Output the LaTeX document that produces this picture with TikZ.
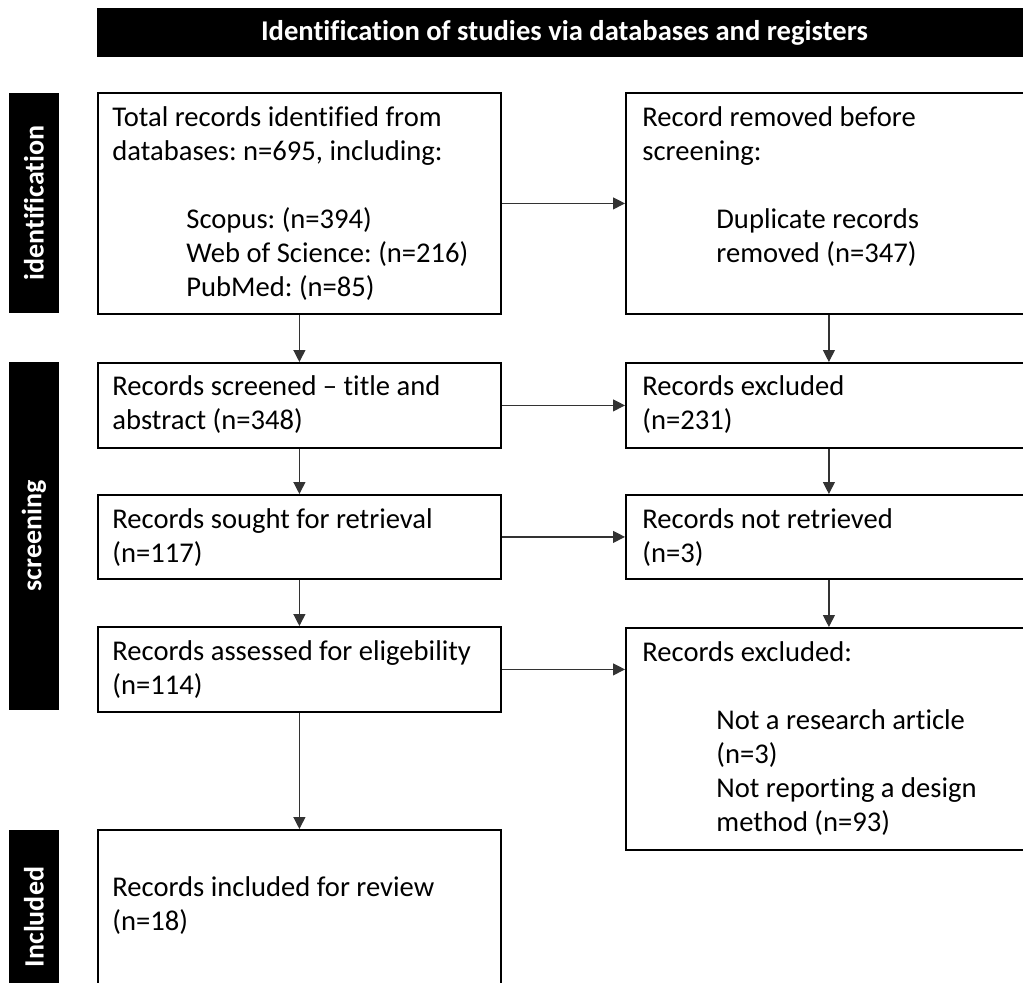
\documentclass[tikz,border=0pt]{standalone}
\usepackage{fontspec}
\setmainfont{Carlito}[Ligatures=NoCommon]
\usetikzlibrary{arrows.meta}
\newcommand{\subind}{\hspace*{37pt}}
\frenchspacing

\begin{document}
\begin{tikzpicture}[x=0.5pt,y=-0.5pt,>={Triangle[length=6pt,width=6pt]},
        rec/.style={draw,line width=0.9pt,anchor=north west,inner sep=0pt},
        txt/.style={anchor=base west,inner sep=0pt,align=flush left,text width=200pt,font=\fontsize{14.3}{17}\selectfont},
        side/.style={fill=black,text=white,inner sep=0pt,rotate=90,minimum height=25pt,font=\fontsize{14}{17}\selectfont\bfseries},
        flow/.style={->,draw=black!80,line width=0.6pt}]
            \useasboundingbox (0,0) rectangle (1023,982);
            \clip (0,0) rectangle (1023,982);

            % header bar
            \node[fill=black,text=white,anchor=north west,inner sep=0pt,minimum width=467pt,minimum height=24.5pt,
                font=\fontsize{14.3}{17}\selectfont\bfseries] (head) at (97,8) {Identification of studies via databases and registers};

            % side bars
            \node[side,minimum width=110pt] (identside) at (34,203) {identification};
            \node[side,minimum width=174pt] (screenside) at (34,536) {screening};
            \node[side,minimum width=87pt] (inclside) at (34,917) {Included};

            % left column
            \node[rec,minimum width=201.5pt,minimum height=110.5pt] (total) at (97,92) {};
            \node[rec,minimum width=201.5pt,minimum height=42.5pt] (screened) at (97,362) {};
            \node[rec,minimum width=201.5pt,minimum height=42pt] (sought) at (97,494) {};
            \node[rec,minimum width=201.5pt,minimum height=42.5pt] (assessed) at (97,626) {};
            \node[rec,minimum width=201.5pt,minimum height=87.5pt] (incl) at (97,829) {};

            % right column
            \node[rec,minimum width=203pt,minimum height=110.5pt] (removed) at (625,92) {};
            \node[rec,minimum width=203pt,minimum height=42.5pt] (excl) at (625,362) {};
            \node[rec,minimum width=203pt,minimum height=42pt] (notret) at (625,494) {};
            \node[rec,minimum width=203pt,minimum height=111pt] (exclfull) at (625,627) {};

            % texts in the boxes
            \node[txt] (totaltxt) at ([shift={(15,34)}]total.north west)
                {Total records identified from\\ databases: n=695, including:\\[17pt]
                 \subind Scopus: (n=394)\\ \subind Web of Science: (n=216)\\ \subind PubMed: (n=85)};
            \node[txt] (screenedtxt) at ([shift={(15,33)}]screened.north west) {Records screened – title and\\ abstract (n=348)};
            \node[txt] (soughttxt) at ([shift={(15,34)}]sought.north west) {Records sought for retrieval\\ (n=117)};
            \node[txt] (assessedtxt) at ([shift={(15,34)}]assessed.north west) {Records assessed for eligebility\\ (n=114)};
            \node[txt] (incltxt) at ([shift={(15,67)}]incl.north west) {Records included for review\\ (n=18)};

            \node[txt] (removedtxt) at ([shift={(17,34)}]removed.north west)
                {Record removed before\\ screening:\\[17pt] \subind Duplicate records\\ \subind removed (n=347)};
            \node[txt] (excltxt) at ([shift={(17,33)}]excl.north west) {Records excluded\\ (n=231)};
            \node[txt] (notrettxt) at ([shift={(17,34)}]notret.north west) {Records not retrieved\\ (n=3)};
            \node[txt] (exclfulltxt) at ([shift={(17,34)}]exclfull.north west)
                {Records excluded:\\[17pt] \subind Not a research article\\ \subind (n=3)\\
                 \subind Not reporting a design\\ \subind method (n=93)};

            % arrows
            \draw[flow] (total) -- (removed);
            \draw[flow] (total) -- (screened);
            \draw[flow] (removed) -- (excl);
            \draw[flow] (screened) -- (excl);
            \draw[flow] (screened) -- (sought);
            \draw[flow] (excl) -- (notret);
            \draw[flow] (sought) -- (notret);
            \draw[flow] (sought) -- (assessed);
            \draw[flow] (notret) -- (exclfull);
            \draw[flow] (assessed.east) -- (assessed.east -| exclfull.west);
            \draw[flow] (assessed) -- (incl);
        \end{tikzpicture}
\end{document}
